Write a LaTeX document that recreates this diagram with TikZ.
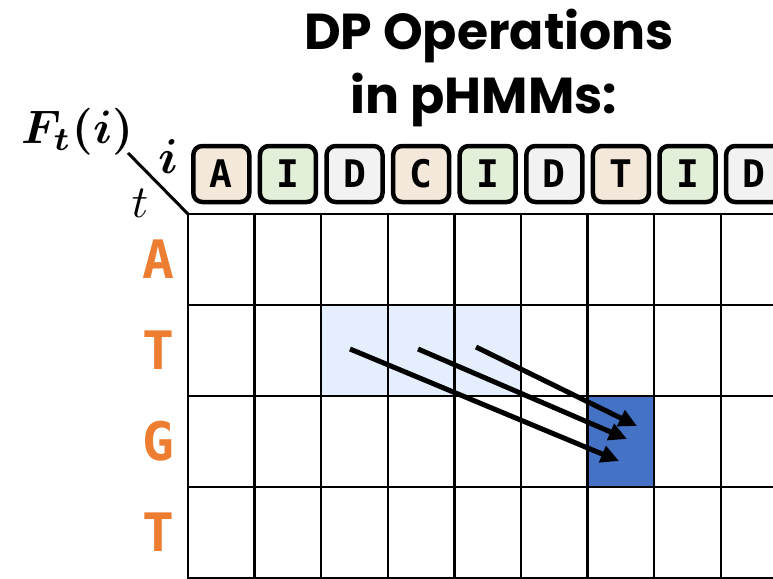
\documentclass[tikz,border=0pt]{standalone}
\usepackage{fontspec}
\usepackage{bm}
\usepackage{graphicx}
\usetikzlibrary{arrows.meta}
\newfontfamily\titlefont{Poppins}
\newfontfamily\monofont{DejaVu Sans Mono}
\definecolor{beige}{HTML}{F3E8DA}
\definecolor{lgreen}{HTML}{E2F0D9}
\definecolor{lgray}{HTML}{F2F2F2}
\definecolor{lblue}{HTML}{E4EEFC}
\definecolor{dblue}{HTML}{4472C4}
\definecolor{orangec}{HTML}{ED7D31}
\begin{document}
\begin{tikzpicture}[x=1pt,y=-1pt,
  cellnode/.style={inner sep=0pt,outer sep=0pt,minimum width=66.6pt,minimum height=91pt},
  gridline/.style={line width=2.5pt,black},
  hbox/.style={draw=black,line width=4.5pt,rounded corners=9pt,minimum size=56pt,inner sep=0pt,
    font=\monofont\bfseries\fontsize{38}{40}\selectfont},
  rowlab/.style={text=orangec,font=\monofont\bfseries\fontsize{53}{54}\selectfont,inner sep=0pt},
  arrowline/.style={line width=5pt,-{Triangle[length=18pt,width=17pt]}},
  titletext/.style={font=\titlefont\bfseries\fontsize{50.5}{60}\selectfont,inner sep=0pt,anchor=base},
  mathlab/.style={inner sep=0pt,font=\normalsize}
]
\useasboundingbox (0,0) rectangle (773,578);
\begin{scope}
\clip (0,0) rectangle (773,578);
% cells
\foreach \r in {1,...,4}{
  \foreach \c in {1,...,9}{
    \node[cellnode] (c-\r-\c) at ({188+66.6*(\c-0.5)},{214+91*(\r-0.5)}) {};
  }
}
\fill[lblue] (c-2-3.north west) rectangle (c-2-5.south east);
\fill[dblue] (c-3-7.north west) rectangle (c-3-7.south east);
\foreach \r in {1,...,4}{
  \foreach \c in {1,...,9}{
    \draw[gridline] (c-\r-\c.north west) rectangle (c-\r-\c.south east);
  }
}
% header boxes
\foreach \lab/\col [count=\k] in {A/beige,I/lgreen,D/lgray,C/beige,I/lgreen,D/lgray,T/beige,I/lgreen,D/lgray}{
  \node[hbox,fill=\col] (h-\k) at ({188+66.6*(\k-0.5)},174) {\lab};
}
\end{scope}
% row labels
\node[rowlab] (r1) at (158,259.5) {A};
\node[rowlab] (r2) at (158,350.5) {T};
\node[rowlab] (r3) at (158,441.5) {G};
\node[rowlab] (r4) at (158,532.5) {T};
% corner label
\coordinate (diagstart) at (128,153);
\draw[line width=3pt] (diagstart) -- (c-1-1.north west);
\node[mathlab,anchor=base west] (fti) at (21,143) {\scalebox{4.7}{$\bm{F_t(i)}$}};
\node[mathlab,anchor=base] (ilab) at (168,173) {\scalebox{4.9}{$\bm{i}$}};
\node[mathlab,anchor=base] (tlab) at (140,217) {\scalebox{4.6}{$t$}};
% title
\node[titletext] (title1) at (489,50) {DP Operations};
\node[titletext] (title2) at (484,113) {in pHMMs:};
% arrows
\coordinate (s1) at (350,349);
\coordinate (s2) at (418,349);
\coordinate (s3) at (476,347);
\coordinate (e1) at (619,461);
\coordinate (e2) at (627,439);
\coordinate (e3) at (637,426);
\draw[arrowline] (s1) -- (e1);
\draw[arrowline] (s2) -- (e2);
\draw[arrowline] (s3) -- (e3);
\end{tikzpicture}
\end{document}
